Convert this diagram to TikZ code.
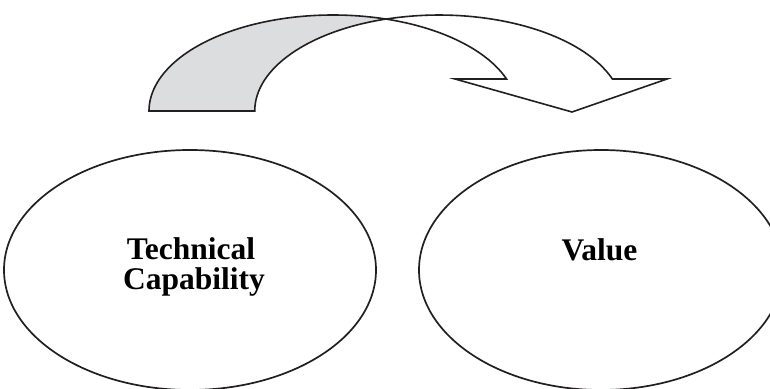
\documentclass[tikz,border=0pt]{standalone}
\usepackage{fontspec}
\setmainfont{Liberation Serif}
\usetikzlibrary{shapes.geometric}
\definecolor{ink}{RGB}{35,31,32}
\definecolor{shade}{RGB}{220,221,223}
\tikzset{
  ring/.style={ellipse, draw=ink, line width=1.7pt, inner sep=0pt},
  lbl/.style={font=\fontsize{31.5}{29.5}\selectfont\bfseries, text=black, anchor=base, inner sep=0pt},
  band/.style={draw=ink, line width=1.6pt, line join=miter},
}
\begin{document}
\begin{tikzpicture}[x=1pt,y=1pt]
\useasboundingbox (0,0) rectangle (770,388);
% curved arrow: back (shaded) band
\coordinate (meet) at (386.1,368.9);
\coordinate (tailout) at (149,277);
\coordinate (tailin) at (255,277);
\coordinate (headL) at (455,309);
\coordinate (headR) at (667,309);
\coordinate (tip) at (572,276);
\coordinate (bodyin) at (506.5,309);
\filldraw[band, fill=shade] (tailout) arc[start angle=180, end angle=73.3, x radius=184, y radius=96]
  arc[start angle=106.7, end angle=180, x radius=184, y radius=96] -- cycle;
% front (white) band with head
\filldraw[band, fill=white] (meet) arc[start angle=106.7, end angle=19.47, x radius=184, y radius=96]
  -- (headR) -- (tip) -- (headL) -- (bodyin)
  arc[start angle=19.47, end angle=73.3, x radius=184, y radius=96] -- cycle;
% ellipses
\node[ring, minimum width=372pt, minimum height=240pt] (tc) at (190,118) {};
\node[ring, minimum width=364pt, minimum height=240pt] (val) at (601,118) {};
% labels
\node[lbl] (tct) at (191,128) {Technical};
\node[lbl] (tcc) at (194,98.5) {Capability};
\node[lbl] (valt) at (599.5,127) {Value};
\end{tikzpicture}
\end{document}
